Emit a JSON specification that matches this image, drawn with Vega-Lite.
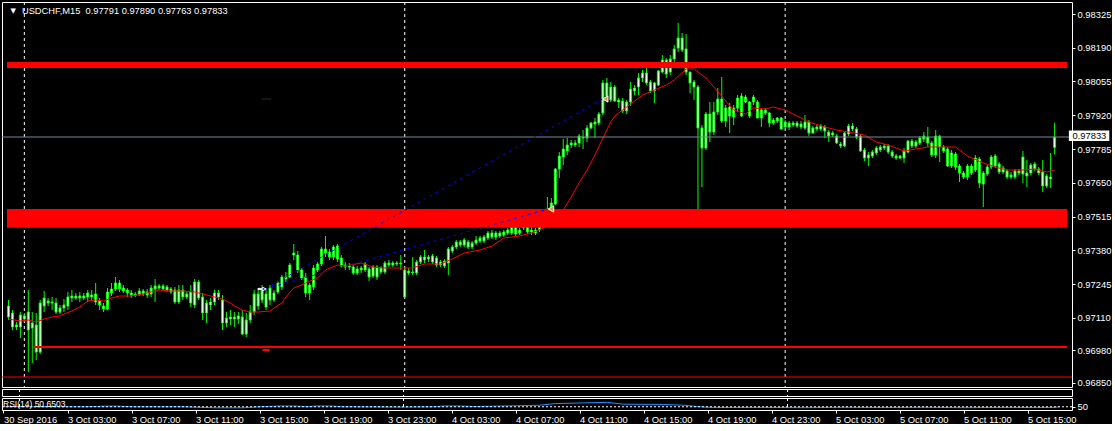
{
"$schema": "https://vega.github.io/schema/vega-lite/v6.json",
"background": "#000000",
"padding": {"left": 0, "top": 1, "right": 0, "bottom": 0},
"bounds": "flush",
"spacing": 2,
"config": {
  "view": {"stroke": "#FFFFFF", "strokeWidth": 1},
  "axis": {"labelColor": "#FFFFFF", "tickColor": "#FFFFFF", "labelFont": "Liberation Sans", "labelFontSize": 9.4, "grid": false, "domain": false, "tickSize": 3, "labelPadding": 2, "labelOverlap": false, "labelFlush": false}
},
"datasets": {
  "sep": [{"i": 4}, {"i": 100}, {"i": 196}],
  "candles": [
{"i":0,"o":0.97157,"h":0.97181,"l":0.97101,"c":0.97113},
{"i":1,"o":0.97129,"h":0.97141,"l":0.97061,"c":0.97073},
{"i":2,"o":0.97073,"h":0.97093,"l":0.97061,"c":0.97081},
{"i":3,"o":0.97073,"h":0.97133,"l":0.97029,"c":0.97121},
{"i":4,"o":0.97117,"h":0.97129,"l":0.97093,"c":0.97105},
{"i":5,"o":0.97133,"h":0.97221,"l":0.96893,"c":0.97061},
{"i":6,"o":0.97069,"h":0.97133,"l":0.96929,"c":0.97089},
{"i":7,"o":0.97081,"h":0.97129,"l":0.96941,"c":0.96973},
{"i":8,"o":0.96973,"h":0.97181,"l":0.96965,"c":0.97169},
{"i":9,"o":0.97157,"h":0.97217,"l":0.97133,"c":0.97189},
{"i":10,"o":0.97177,"h":0.97189,"l":0.97157,"c":0.97169},
{"i":11,"o":0.97173,"h":0.97193,"l":0.97141,"c":0.97169},
{"i":12,"o":0.97169,"h":0.97189,"l":0.97125,"c":0.97133},
{"i":13,"o":0.97133,"h":0.97161,"l":0.97125,"c":0.97149},
{"i":14,"o":0.97149,"h":0.97185,"l":0.97133,"c":0.97161},
{"i":15,"o":0.97157,"h":0.97213,"l":0.97141,"c":0.97193},
{"i":16,"o":0.97189,"h":0.97221,"l":0.97173,"c":0.97197},
{"i":17,"o":0.97197,"h":0.97209,"l":0.97181,"c":0.97189},
{"i":18,"o":0.97189,"h":0.97213,"l":0.97173,"c":0.97197},
{"i":19,"o":0.97197,"h":0.97209,"l":0.97181,"c":0.97189},
{"i":20,"o":0.97193,"h":0.97221,"l":0.97173,"c":0.97209},
{"i":21,"o":0.97201,"h":0.97221,"l":0.97181,"c":0.97193},
{"i":22,"o":0.97205,"h":0.97249,"l":0.97161,"c":0.97173},
{"i":23,"o":0.97177,"h":0.97189,"l":0.97141,"c":0.97161},
{"i":24,"o":0.97157,"h":0.97169,"l":0.97133,"c":0.97145},
{"i":25,"o":0.97145,"h":0.97229,"l":0.97141,"c":0.97213},
{"i":26,"o":0.97209,"h":0.97249,"l":0.97197,"c":0.97225},
{"i":27,"o":0.97225,"h":0.97273,"l":0.97217,"c":0.97249},
{"i":28,"o":0.97249,"h":0.97261,"l":0.97213,"c":0.97225},
{"i":29,"o":0.97229,"h":0.97241,"l":0.97209,"c":0.97217},
{"i":30,"o":0.97221,"h":0.97229,"l":0.97193,"c":0.97209},
{"i":31,"o":0.97209,"h":0.97221,"l":0.97189,"c":0.97201},
{"i":32,"o":0.97201,"h":0.97213,"l":0.97193,"c":0.97205},
{"i":33,"o":0.97205,"h":0.97229,"l":0.97197,"c":0.97217},
{"i":34,"o":0.97217,"h":0.97225,"l":0.97197,"c":0.97205},
{"i":35,"o":0.97213,"h":0.97225,"l":0.97189,"c":0.97201},
{"i":36,"o":0.97205,"h":0.97241,"l":0.97193,"c":0.97229},
{"i":37,"o":0.97225,"h":0.97265,"l":0.97173,"c":0.97237},
{"i":38,"o":0.97237,"h":0.97245,"l":0.97221,"c":0.97229},
{"i":39,"o":0.97237,"h":0.97245,"l":0.97221,"c":0.97225},
{"i":40,"o":0.97233,"h":0.97241,"l":0.97213,"c":0.97221},
{"i":41,"o":0.97225,"h":0.97233,"l":0.97205,"c":0.97213},
{"i":42,"o":0.97221,"h":0.97233,"l":0.97165,"c":0.97173},
{"i":43,"o":0.97173,"h":0.97241,"l":0.97165,"c":0.97221},
{"i":44,"o":0.97221,"h":0.97241,"l":0.97181,"c":0.97193},
{"i":45,"o":0.97205,"h":0.97217,"l":0.97185,"c":0.97193},
{"i":46,"o":0.97213,"h":0.97241,"l":0.97153,"c":0.97169},
{"i":47,"o":0.97161,"h":0.97265,"l":0.97149,"c":0.97253},
{"i":48,"o":0.97253,"h":0.97261,"l":0.97181,"c":0.97189},
{"i":49,"o":0.97193,"h":0.97209,"l":0.97101,"c":0.97129},
{"i":50,"o":0.97129,"h":0.97181,"l":0.97089,"c":0.97169},
{"i":51,"o":0.97161,"h":0.97189,"l":0.97141,"c":0.97173},
{"i":52,"o":0.97173,"h":0.97221,"l":0.97161,"c":0.97209},
{"i":53,"o":0.97209,"h":0.97221,"l":0.97181,"c":0.97193},
{"i":54,"o":0.97181,"h":0.97201,"l":0.97061,"c":0.97089},
{"i":55,"o":0.97089,"h":0.97133,"l":0.97073,"c":0.97109},
{"i":56,"o":0.97113,"h":0.97141,"l":0.97081,"c":0.97105},
{"i":57,"o":0.97105,"h":0.97133,"l":0.97073,"c":0.97113},
{"i":58,"o":0.97117,"h":0.97133,"l":0.97085,"c":0.97105},
{"i":59,"o":0.97113,"h":0.97141,"l":0.97041,"c":0.97045},
{"i":60,"o":0.97045,"h":0.97129,"l":0.97033,"c":0.97101},
{"i":61,"o":0.97101,"h":0.97161,"l":0.97089,"c":0.97133},
{"i":62,"o":0.97133,"h":0.97221,"l":0.97121,"c":0.97205},
{"i":63,"o":0.97205,"h":0.97221,"l":0.97141,"c":0.97157},
{"i":64,"o":0.97181,"h":0.97241,"l":0.97169,"c":0.97221},
{"i":65,"o":0.97205,"h":0.97221,"l":0.97141,"c":0.97153},
{"i":66,"o":0.97181,"h":0.97241,"l":0.97161,"c":0.97229},
{"i":67,"o":0.97209,"h":0.97221,"l":0.97173,"c":0.97181},
{"i":68,"o":0.97213,"h":0.97257,"l":0.97205,"c":0.97249},
{"i":69,"o":0.97233,"h":0.97281,"l":0.97221,"c":0.97273},
{"i":70,"o":0.97265,"h":0.97293,"l":0.97253,"c":0.97273},
{"i":71,"o":0.97273,"h":0.97329,"l":0.97269,"c":0.97321},
{"i":72,"o":0.97361,"h":0.97405,"l":0.97341,"c":0.97369},
{"i":73,"o":0.97361,"h":0.97377,"l":0.97289,"c":0.97301},
{"i":74,"o":0.97301,"h":0.97309,"l":0.97261,"c":0.97269},
{"i":75,"o":0.97273,"h":0.97289,"l":0.97193,"c":0.97209},
{"i":76,"o":0.97209,"h":0.97249,"l":0.97181,"c":0.97241},
{"i":77,"o":0.97233,"h":0.97321,"l":0.97221,"c":0.97309},
{"i":78,"o":0.97301,"h":0.97333,"l":0.97293,"c":0.97325},
{"i":79,"o":0.97325,"h":0.97393,"l":0.97317,"c":0.97385},
{"i":80,"o":0.97385,"h":0.97437,"l":0.97353,"c":0.97369},
{"i":81,"o":0.97373,"h":0.97385,"l":0.97341,"c":0.97353},
{"i":82,"o":0.97353,"h":0.97401,"l":0.97341,"c":0.97393},
{"i":83,"o":0.97397,"h":0.97405,"l":0.97333,"c":0.97345},
{"i":84,"o":0.97349,"h":0.97361,"l":0.97309,"c":0.97317},
{"i":85,"o":0.97321,"h":0.97333,"l":0.97301,"c":0.97313},
{"i":86,"o":0.97313,"h":0.97329,"l":0.97301,"c":0.97317},
{"i":87,"o":0.97313,"h":0.97325,"l":0.97281,"c":0.97289},
{"i":88,"o":0.97289,"h":0.97317,"l":0.97281,"c":0.97305},
{"i":89,"o":0.97301,"h":0.97317,"l":0.97289,"c":0.97309},
{"i":90,"o":0.97301,"h":0.97333,"l":0.97293,"c":0.97325},
{"i":91,"o":0.97305,"h":0.97313,"l":0.97257,"c":0.97273},
{"i":92,"o":0.97277,"h":0.97321,"l":0.97269,"c":0.97313},
{"i":93,"o":0.97273,"h":0.97321,"l":0.97261,"c":0.97313},
{"i":94,"o":0.97309,"h":0.97317,"l":0.97285,"c":0.97293},
{"i":95,"o":0.97293,"h":0.97337,"l":0.97285,"c":0.97329},
{"i":96,"o":0.97329,"h":0.97341,"l":0.97313,"c":0.97321},
{"i":97,"o":0.97321,"h":0.97337,"l":0.97313,"c":0.97329},
{"i":98,"o":0.97329,"h":0.97337,"l":0.97317,"c":0.97325},
{"i":99,"o":0.97325,"h":0.97361,"l":0.97301,"c":0.97329},
{"i":100,"o":0.97301,"h":0.97309,"l":0.97193,"c":0.97193},
{"i":101,"o":0.97289,"h":0.97309,"l":0.97281,"c":0.97297},
{"i":102,"o":0.97293,"h":0.97353,"l":0.97281,"c":0.97289},
{"i":103,"o":0.97289,"h":0.97341,"l":0.97281,"c":0.97333},
{"i":104,"o":0.97333,"h":0.97361,"l":0.97325,"c":0.97353},
{"i":105,"o":0.97341,"h":0.97381,"l":0.97329,"c":0.97353},
{"i":106,"o":0.97353,"h":0.97361,"l":0.97333,"c":0.97345},
{"i":107,"o":0.97333,"h":0.97365,"l":0.97325,"c":0.97357},
{"i":108,"o":0.97349,"h":0.97357,"l":0.97313,"c":0.97321},
{"i":109,"o":0.97333,"h":0.97341,"l":0.97313,"c":0.97321},
{"i":110,"o":0.97317,"h":0.97345,"l":0.97309,"c":0.97337},
{"i":111,"o":0.97329,"h":0.97393,"l":0.97281,"c":0.97385},
{"i":112,"o":0.97377,"h":0.97401,"l":0.97369,"c":0.97393},
{"i":113,"o":0.97393,"h":0.97421,"l":0.97385,"c":0.97413},
{"i":114,"o":0.97413,"h":0.97421,"l":0.97393,"c":0.97401},
{"i":115,"o":0.97401,"h":0.97429,"l":0.97393,"c":0.97421},
{"i":116,"o":0.97413,"h":0.97421,"l":0.97385,"c":0.97393},
{"i":117,"o":0.97393,"h":0.97417,"l":0.97385,"c":0.97409},
{"i":118,"o":0.97409,"h":0.97437,"l":0.97401,"c":0.97421},
{"i":119,"o":0.97417,"h":0.97437,"l":0.97409,"c":0.97429},
{"i":120,"o":0.97433,"h":0.97441,"l":0.97409,"c":0.97417},
{"i":121,"o":0.97429,"h":0.97457,"l":0.97421,"c":0.97449},
{"i":122,"o":0.97433,"h":0.97461,"l":0.97425,"c":0.97449},
{"i":123,"o":0.97449,"h":0.97457,"l":0.97421,"c":0.97433},
{"i":124,"o":0.97437,"h":0.97457,"l":0.97429,"c":0.97449},
{"i":125,"o":0.97441,"h":0.97461,"l":0.97433,"c":0.97453},
{"i":126,"o":0.97449,"h":0.97469,"l":0.97441,"c":0.97461},
{"i":127,"o":0.97449,"h":0.97481,"l":0.97441,"c":0.97473},
{"i":128,"o":0.97477,"h":0.97485,"l":0.97437,"c":0.97445},
{"i":129,"o":0.97461,"h":0.97469,"l":0.97441,"c":0.97449},
{"i":130,"o":0.97469,"h":0.97509,"l":0.97461,"c":0.97501},
{"i":131,"o":0.97501,"h":0.97509,"l":0.97445,"c":0.97453},
{"i":132,"o":0.97461,"h":0.97473,"l":0.97441,"c":0.97453},
{"i":133,"o":0.97449,"h":0.97469,"l":0.97441,"c":0.97461},
{"i":134,"o":0.97461,"h":0.97505,"l":0.97453,"c":0.97497},
{"i":135,"o":0.97493,"h":0.97521,"l":0.97485,"c":0.97509},
{"i":136,"o":0.97501,"h":0.97593,"l":0.97493,"c":0.97545},
{"i":137,"o":0.97529,"h":0.97589,"l":0.97521,"c":0.97569},
{"i":138,"o":0.97565,"h":0.97709,"l":0.97561,"c":0.97705},
{"i":139,"o":0.97705,"h":0.97773,"l":0.97669,"c":0.97757},
{"i":140,"o":0.97753,"h":0.97825,"l":0.97721,"c":0.97785},
{"i":141,"o":0.97777,"h":0.97829,"l":0.97761,"c":0.97801},
{"i":142,"o":0.97801,"h":0.97821,"l":0.97789,"c":0.97809},
{"i":143,"o":0.97809,"h":0.97821,"l":0.97793,"c":0.97801},
{"i":144,"o":0.97809,"h":0.97845,"l":0.97793,"c":0.97837},
{"i":145,"o":0.97833,"h":0.97861,"l":0.97785,"c":0.97829},
{"i":146,"o":0.97829,"h":0.97881,"l":0.97813,"c":0.97869},
{"i":147,"o":0.97869,"h":0.97893,"l":0.97865,"c":0.97889},
{"i":148,"o":0.97893,"h":0.97909,"l":0.97829,"c":0.97885},
{"i":149,"o":0.97889,"h":0.97933,"l":0.97881,"c":0.97925},
{"i":150,"o":0.97929,"h":0.98061,"l":0.97921,"c":0.98049},
{"i":151,"o":0.98049,"h":0.98069,"l":0.97993,"c":0.97997},
{"i":152,"o":0.97981,"h":0.98053,"l":0.97973,"c":0.98033},
{"i":153,"o":0.98033,"h":0.98041,"l":0.97973,"c":0.97977},
{"i":154,"o":0.97981,"h":0.97989,"l":0.97949,"c":0.97973},
{"i":155,"o":0.97977,"h":0.97989,"l":0.97929,"c":0.97937},
{"i":156,"o":0.97937,"h":0.97981,"l":0.97925,"c":0.97973},
{"i":157,"o":0.97973,"h":0.98053,"l":0.97957,"c":0.98025},
{"i":158,"o":0.98017,"h":0.98041,"l":0.98001,"c":0.98029},
{"i":159,"o":0.98033,"h":0.98089,"l":0.98001,"c":0.98069},
{"i":160,"o":0.98069,"h":0.98101,"l":0.98053,"c":0.98089},
{"i":161,"o":0.98089,"h":0.98133,"l":0.98041,"c":0.98049},
{"i":162,"o":0.98053,"h":0.98061,"l":0.98009,"c":0.98017},
{"i":163,"o":0.98017,"h":0.98053,"l":0.97969,"c":0.98049},
{"i":164,"o":0.98041,"h":0.98101,"l":0.98037,"c":0.98097},
{"i":165,"o":0.98093,"h":0.98161,"l":0.98089,"c":0.98141},
{"i":166,"o":0.98141,"h":0.98149,"l":0.98069,"c":0.98085},
{"i":167,"o":0.98093,"h":0.98161,"l":0.98081,"c":0.98145},
{"i":168,"o":0.98145,"h":0.98201,"l":0.98121,"c":0.98185},
{"i":169,"o":0.98189,"h":0.98289,"l":0.98173,"c":0.98229},
{"i":170,"o":0.98229,"h":0.98249,"l":0.98173,"c":0.98181},
{"i":171,"o":0.98185,"h":0.98245,"l":0.98081,"c":0.98093},
{"i":172,"o":0.98093,"h":0.98093,"l":0.98009,"c":0.98049},
{"i":173,"o":0.98053,"h":0.98061,"l":0.97981,"c":0.98033},
{"i":174,"o":0.98033,"h":0.98041,"l":0.97533,"c":0.97869},
{"i":175,"o":0.97869,"h":0.97881,"l":0.97633,"c":0.97789},
{"i":176,"o":0.97789,"h":0.97933,"l":0.97781,"c":0.97925},
{"i":177,"o":0.97925,"h":0.97973,"l":0.97813,"c":0.97853},
{"i":178,"o":0.97853,"h":0.97973,"l":0.97841,"c":0.97933},
{"i":179,"o":0.97933,"h":0.98029,"l":0.97921,"c":0.97985},
{"i":180,"o":0.97985,"h":0.98073,"l":0.97889,"c":0.97897},
{"i":181,"o":0.97897,"h":0.97961,"l":0.97873,"c":0.97949},
{"i":182,"o":0.97953,"h":0.97969,"l":0.97849,"c":0.97917},
{"i":183,"o":0.97913,"h":0.97961,"l":0.97881,"c":0.97949},
{"i":184,"o":0.97949,"h":0.98001,"l":0.97933,"c":0.97989},
{"i":185,"o":0.97997,"h":0.98009,"l":0.97913,"c":0.97917},
{"i":186,"o":0.97973,"h":0.98001,"l":0.97969,"c":0.97993},
{"i":187,"o":0.97973,"h":0.97977,"l":0.97909,"c":0.97917},
{"i":188,"o":0.97973,"h":0.98001,"l":0.97961,"c":0.97993},
{"i":189,"o":0.97973,"h":0.97981,"l":0.97909,"c":0.97909},
{"i":190,"o":0.97909,"h":0.97949,"l":0.97873,"c":0.97941},
{"i":191,"o":0.97941,"h":0.97949,"l":0.97921,"c":0.97929},
{"i":192,"o":0.97929,"h":0.97933,"l":0.97873,"c":0.97889},
{"i":193,"o":0.97889,"h":0.97909,"l":0.97881,"c":0.97901},
{"i":194,"o":0.97897,"h":0.97913,"l":0.97889,"c":0.97909},
{"i":195,"o":0.97909,"h":0.97913,"l":0.97861,"c":0.97865},
{"i":196,"o":0.97873,"h":0.97901,"l":0.97869,"c":0.97893},
{"i":197,"o":0.97889,"h":0.97897,"l":0.97861,"c":0.97873},
{"i":198,"o":0.97881,"h":0.97897,"l":0.97873,"c":0.97889},
{"i":199,"o":0.97889,"h":0.97897,"l":0.97869,"c":0.97877},
{"i":200,"o":0.97885,"h":0.97897,"l":0.97865,"c":0.97873},
{"i":201,"o":0.97869,"h":0.97921,"l":0.97861,"c":0.97893},
{"i":202,"o":0.97893,"h":0.97901,"l":0.97837,"c":0.97849},
{"i":203,"o":0.97849,"h":0.97877,"l":0.97845,"c":0.97869},
{"i":204,"o":0.97873,"h":0.97881,"l":0.97857,"c":0.97865},
{"i":205,"o":0.97865,"h":0.97885,"l":0.97857,"c":0.97877},
{"i":206,"o":0.97873,"h":0.97881,"l":0.97829,"c":0.97857},
{"i":207,"o":0.97853,"h":0.97861,"l":0.97813,"c":0.97837},
{"i":208,"o":0.97841,"h":0.97857,"l":0.97833,"c":0.97849},
{"i":209,"o":0.97837,"h":0.97845,"l":0.97805,"c":0.97809},
{"i":210,"o":0.97805,"h":0.97813,"l":0.97789,"c":0.97797},
{"i":211,"o":0.97797,"h":0.97853,"l":0.97793,"c":0.97849},
{"i":212,"o":0.97845,"h":0.97885,"l":0.97837,"c":0.97877},
{"i":213,"o":0.97877,"h":0.97889,"l":0.97857,"c":0.97865},
{"i":214,"o":0.97865,"h":0.97873,"l":0.97825,"c":0.97833},
{"i":215,"o":0.97837,"h":0.97845,"l":0.97773,"c":0.97777},
{"i":216,"o":0.97781,"h":0.97789,"l":0.97737,"c":0.97749},
{"i":217,"o":0.97749,"h":0.97773,"l":0.97717,"c":0.97761},
{"i":218,"o":0.97757,"h":0.97781,"l":0.97749,"c":0.97773},
{"i":219,"o":0.97769,"h":0.97797,"l":0.97761,"c":0.97789},
{"i":220,"o":0.97781,"h":0.97801,"l":0.97773,"c":0.97793},
{"i":221,"o":0.97797,"h":0.97805,"l":0.97781,"c":0.97789},
{"i":222,"o":0.97797,"h":0.97805,"l":0.97765,"c":0.97773},
{"i":223,"o":0.97773,"h":0.97781,"l":0.97749,"c":0.97757},
{"i":224,"o":0.97757,"h":0.97765,"l":0.97741,"c":0.97749},
{"i":225,"o":0.97749,"h":0.97761,"l":0.97745,"c":0.97757},
{"i":226,"o":0.97749,"h":0.97789,"l":0.97729,"c":0.97777},
{"i":227,"o":0.97773,"h":0.97821,"l":0.97769,"c":0.97817},
{"i":228,"o":0.97817,"h":0.97825,"l":0.97789,"c":0.97797},
{"i":229,"o":0.97797,"h":0.97821,"l":0.97789,"c":0.97813},
{"i":230,"o":0.97809,"h":0.97837,"l":0.97801,"c":0.97829},
{"i":231,"o":0.97825,"h":0.97853,"l":0.97813,"c":0.97837},
{"i":232,"o":0.97833,"h":0.97873,"l":0.97793,"c":0.97809},
{"i":233,"o":0.97809,"h":0.97817,"l":0.97753,"c":0.97761},
{"i":234,"o":0.97761,"h":0.97861,"l":0.97749,"c":0.97837},
{"i":235,"o":0.97837,"h":0.97841,"l":0.97733,"c":0.97793},
{"i":236,"o":0.97793,"h":0.97801,"l":0.97769,"c":0.97777},
{"i":237,"o":0.97785,"h":0.97793,"l":0.97713,"c":0.97717},
{"i":238,"o":0.97717,"h":0.97781,"l":0.97709,"c":0.97769},
{"i":239,"o":0.97765,"h":0.97773,"l":0.97701,"c":0.97713},
{"i":240,"o":0.97717,"h":0.97725,"l":0.97653,"c":0.97689},
{"i":241,"o":0.97689,"h":0.97697,"l":0.97665,"c":0.97673},
{"i":242,"o":0.97673,"h":0.97725,"l":0.97661,"c":0.97717},
{"i":243,"o":0.97717,"h":0.97725,"l":0.97681,"c":0.97689},
{"i":244,"o":0.97701,"h":0.97761,"l":0.97693,"c":0.97749},
{"i":245,"o":0.97745,"h":0.97753,"l":0.97629,"c":0.97649},
{"i":246,"o":0.97645,"h":0.97697,"l":0.97553,"c":0.97689},
{"i":247,"o":0.97685,"h":0.97721,"l":0.97677,"c":0.97713},
{"i":248,"o":0.97713,"h":0.97761,"l":0.97705,"c":0.97753},
{"i":249,"o":0.97757,"h":0.97765,"l":0.97709,"c":0.97717},
{"i":250,"o":0.97725,"h":0.97733,"l":0.97685,"c":0.97693},
{"i":251,"o":0.97693,"h":0.97717,"l":0.97685,"c":0.97709},
{"i":252,"o":0.97697,"h":0.97705,"l":0.97665,"c":0.97673},
{"i":253,"o":0.97673,"h":0.97693,"l":0.97665,"c":0.97681},
{"i":254,"o":0.97673,"h":0.97705,"l":0.97665,"c":0.97697},
{"i":255,"o":0.97697,"h":0.97705,"l":0.97681,"c":0.97689},
{"i":256,"o":0.97685,"h":0.97777,"l":0.97649,"c":0.97753},
{"i":257,"o":0.97689,"h":0.97741,"l":0.97633,"c":0.97677},
{"i":258,"o":0.97689,"h":0.97729,"l":0.97681,"c":0.97721},
{"i":259,"o":0.97725,"h":0.97733,"l":0.97697,"c":0.97705},
{"i":260,"o":0.97705,"h":0.97713,"l":0.97681,"c":0.97689},
{"i":261,"o":0.97693,"h":0.97741,"l":0.97613,"c":0.97637},
{"i":262,"o":0.97637,"h":0.97685,"l":0.97629,"c":0.97677},
{"i":263,"o":0.97673,"h":0.97769,"l":0.97629,"c":0.97665},
{"i":264,"o":0.97791,"h":0.97890,"l":0.97763,"c":0.97833}
  ],
  "ma": [
{"i":0,"v":0.97105},{"i":3,"v":0.97097},{"i":5,"v":0.97101},{"i":7,"v":0.97093},{"i":9,"v":0.97105},{"i":11,"v":0.97113},{"i":13,"v":0.97117},{"i":14,"v":0.97125},{"i":16,"v":0.97137},{"i":18,"v":0.97153},{"i":19,"v":0.97165},{"i":20,"v":0.97177},{"i":22,"v":0.97181},{"i":24,"v":0.97177},{"i":26,"v":0.97189},{"i":28,"v":0.97197},{"i":31,"v":0.97197},{"i":34,"v":0.97205},{"i":36,"v":0.97213},{"i":38,"v":0.97221},{"i":41,"v":0.97217},{"i":44,"v":0.97217},{"i":47,"v":0.97213},{"i":49,"v":0.97205},{"i":52,"v":0.97193},{"i":54,"v":0.97185},{"i":56,"v":0.97169},{"i":57,"v":0.97157},{"i":59,"v":0.97141},{"i":61,"v":0.97133},{"i":63,"v":0.97133},{"i":66,"v":0.97137},{"i":67,"v":0.97149},{"i":69,"v":0.97169},{"i":70,"v":0.97193},{"i":72,"v":0.97229},{"i":74,"v":0.97241},{"i":75,"v":0.97249},{"i":78,"v":0.97269},{"i":80,"v":0.97301},{"i":83,"v":0.97321},{"i":85,"v":0.97317},{"i":89,"v":0.97329},{"i":92,"v":0.97313},{"i":95,"v":0.97309},{"i":99,"v":0.97309},{"i":102,"v":0.97309},{"i":105,"v":0.97325},{"i":109,"v":0.97325},{"i":112,"v":0.97345},{"i":115,"v":0.97369},{"i":119,"v":0.97381},{"i":122,"v":0.97397},{"i":125,"v":0.97429},{"i":129,"v":0.97437},{"i":132,"v":0.97449},{"i":135,"v":0.97469},{"i":138,"v":0.97485},{"i":140,"v":0.97541},{"i":142,"v":0.97593},{"i":144,"v":0.97649},{"i":146,"v":0.97701},{"i":148,"v":0.97761},{"i":150,"v":0.97829},{"i":152,"v":0.97893},{"i":153,"v":0.97917},{"i":155,"v":0.97941},{"i":158,"v":0.97977},{"i":160,"v":0.98001},{"i":163,"v":0.98021},{"i":166,"v":0.98041},{"i":168,"v":0.98061},{"i":171,"v":0.98105},{"i":173,"v":0.98105},{"i":176,"v":0.98069},{"i":178,"v":0.98033},{"i":181,"v":0.97977},{"i":183,"v":0.97941},{"i":186,"v":0.97925},{"i":188,"v":0.97949},{"i":191,"v":0.97945},{"i":193,"v":0.97953},{"i":196,"v":0.97941},{"i":199,"v":0.97917},{"i":202,"v":0.97893},{"i":206,"v":0.97873},{"i":209,"v":0.97861},{"i":212,"v":0.97853},{"i":216,"v":0.97841},{"i":219,"v":0.97813},{"i":222,"v":0.97801},{"i":226,"v":0.97777},{"i":229,"v":0.97785},{"i":232,"v":0.97793},{"i":236,"v":0.97793},{"i":239,"v":0.97793},{"i":242,"v":0.97757},{"i":246,"v":0.97729},{"i":249,"v":0.97713},{"i":252,"v":0.97701},{"i":256,"v":0.97701},{"i":259,"v":0.97705},{"i":262,"v":0.97693},{"i":264,"v":0.97701}
  ],
  "rsi": [
{"i":0,"v":50},{"i":10,"v":50},{"i":20,"v":50},{"i":26,"v":55},{"i":29,"v":55},{"i":32,"v":50},{"i":45,"v":50},{"i":53,"v":42},{"i":60,"v":42},{"i":64,"v":50},{"i":69,"v":56},{"i":73,"v":56},{"i":76,"v":50},{"i":78,"v":56},{"i":82,"v":56},{"i":85,"v":50},{"i":100,"v":48},{"i":108,"v":50},{"i":110,"v":56},{"i":114,"v":56},{"i":118,"v":52},{"i":128,"v":58},{"i":134,"v":62},{"i":138,"v":75},{"i":145,"v":80},{"i":151,"v":84},{"i":155,"v":70},{"i":165,"v":68},{"i":170,"v":62},{"i":175,"v":48},{"i":178,"v":44},{"i":190,"v":45},{"i":200,"v":43},{"i":210,"v":46},{"i":220,"v":44},{"i":230,"v":46},{"i":240,"v":43},{"i":250,"v":45},{"i":258,"v":44},{"i":263,"v":45},{"i":264,"v":50.65}
  ],
  "bands": [{"lo": 0.98109, "hi": 0.98133}, {"lo": 0.97470, "hi": 0.97545}],
  "trendline": [{"from": 6.2, "p": 0.96993}],
  "trades": [{"i1": 64.7, "p1": 0.97225, "i2": 136.2, "p2": 0.97545}, {"i1": 64.7, "p1": 0.97225, "i2": 149.9, "p2": 0.97985}],
  "closes": [{"i": 136.9, "p": 0.97545}, {"i": 150.6, "p": 0.97985}]
},
"resolve": {"scale": {"x": "independent", "y": "independent"}},
"vconcat": [
 {
  "width": 1070, "height": 385,
  "layer": [
   {"data": {"name": "sep"}, "mark": {"type": "rule", "color": "#FFFFFF", "strokeDash": [3, 3], "strokeWidth": 1},
    "encoding": {"x": {"field": "i", "type": "quantitative", "scale": {"domain": [-0.375, 267.125], "nice": false, "zero": false}, "axis": null}}},
   {"data": {"name": "candles"}, "mark": {"type": "rule", "color": "#00FF00", "strokeWidth": 1},
    "encoding": {
     "x": {"field": "i", "type": "quantitative", "scale": {"domain": [-0.375, 267.125], "nice": false, "zero": false}, "axis": null},
     "y": {"field": "l", "type": "quantitative", "title": null, "scale": {"domain": [0.96833, 0.98373], "nice": false, "zero": false},
       "axis": {"orient": "right", "title": null, "tickCount": 40, "values": [0.98325, 0.98190, 0.98055, 0.97920, 0.97785, 0.97650, 0.97515, 0.97380, 0.97245, 0.97110, 0.96980, 0.96850], "format": ".5f", "labelFlush": false, "labelOverlap": false}},
     "y2": {"field": "h"}}},
   {"data": {"name": "candles"}, "mark": {"type": "bar", "size": 2, "fill": "#FFFFFF", "stroke": "#00FF00", "strokeWidth": 1},
    "encoding": {
     "x": {"field": "i", "type": "quantitative", "axis": null},
     "y": {"field": "o", "type": "quantitative", "title": null},
     "y2": {"field": "c"}}},
   {"data": {"name": "ma"}, "mark": {"type": "line", "color": "#FF0000", "strokeWidth": 1},
    "encoding": {"x": {"field": "i", "type": "quantitative", "axis": null}, "y": {"field": "v", "type": "quantitative", "title": null}}},
   {"data": {"values": [{"p": 0.97833}]}, "mark": {"type": "rule", "color": "#778899", "strokeWidth": 1},
    "encoding": {"y": {"field": "p", "type": "quantitative", "title": null}}},
   {"data": {"name": "bands"}, "mark": {"type": "rect", "color": "#FF0000"},
    "encoding": {"x": {"datum": -0.375, "type": "quantitative", "axis": null}, "x2": {"datum": 267.125}, "y": {"field": "lo", "type": "quantitative", "title": null}, "y2": {"field": "hi"}}},
   {"data": {"name": "trendline"}, "mark": {"type": "rule", "color": "#FF0000", "strokeWidth": 2},
    "encoding": {"x": {"field": "from", "type": "quantitative", "axis": null}, "x2": {"datum": 267.125}, "y": {"field": "p", "type": "quantitative", "title": null}}},
   {"data": {"values": [{"p": 0.96873}]}, "mark": {"type": "rule", "color": "#FF0000", "strokeWidth": 1},
    "encoding": {"y": {"field": "p", "type": "quantitative", "title": null}}},
   {"data": {"values": [{"a": 64.1, "b": 65.9, "p": 0.96981}]}, "mark": {"type": "rule", "color": "#FF0000", "strokeWidth": 2},
    "encoding": {"x": {"field": "a", "type": "quantitative", "axis": null}, "x2": {"field": "b"}, "y": {"field": "p", "type": "quantitative", "title": null}}},
   {"data": {"values": [{"a": 63.8, "b": 66.2, "p": 0.97985}]}, "mark": {"type": "rule", "color": "#3a2020", "strokeWidth": 1},
    "encoding": {"x": {"field": "a", "type": "quantitative", "axis": null}, "x2": {"field": "b"}, "y": {"field": "p", "type": "quantitative", "title": null}}},
   {"data": {"name": "trades"}, "mark": {"type": "rule", "color": "#0000FF", "strokeWidth": 1, "strokeDash": [3, 4]},
    "encoding": {"x": {"field": "i1", "type": "quantitative", "axis": null}, "x2": {"field": "i2"}, "y": {"field": "p1", "type": "quantitative", "title": null}, "y2": {"field": "p2"}}},
   {"data": {"values": [{"i": 64, "p": 0.97225}]}, "mark": {"type": "point", "shape": "arrow", "angle": 90, "filled": true, "fill": "#0000FF", "stroke": "#FFFFFF", "strokeWidth": 1, "size": 70, "opacity": 1},
    "encoding": {"x": {"field": "i", "type": "quantitative", "axis": null}, "y": {"field": "p", "type": "quantitative", "title": null}}},
   {"data": {"name": "closes"}, "mark": {"type": "point", "shape": "triangle-left", "filled": true, "fill": "#D89A40", "stroke": "#FFFFFF", "strokeWidth": 1, "size": 40, "opacity": 1},
    "encoding": {"x": {"field": "i", "type": "quantitative", "axis": null}, "y": {"field": "p", "type": "quantitative", "title": null}}},
   {"data": {"values": [{"t": "▼", "i": 1.2, "p": 0.98338}]}, "mark": {"type": "text", "align": "center", "baseline": "middle", "color": "#FFFFFF", "font": "DejaVu Sans", "fontSize": 7},
    "encoding": {"text": {"field": "t"}, "x": {"field": "i", "type": "quantitative", "axis": null}, "y": {"field": "p", "type": "quantitative", "title": null}}},
   {"data": {"values": [{"t": "USDCHF,M15 \u00a00.97791 0.97890 0.97763 0.97833", "i": 3.4, "p": 0.98338}]}, "mark": {"type": "text", "align": "left", "baseline": "middle", "color": "#FFFFFF", "font": "Liberation Sans", "fontSize": 9.3},
    "encoding": {"text": {"field": "t"}, "x": {"field": "i", "type": "quantitative", "axis": null}, "y": {"field": "p", "type": "quantitative", "title": null}}},
   {"data": {"values": [{"a": 267.6, "b": 277.8, "lo": 0.97817, "hi": 0.97859}]}, "mark": {"type": "rect", "color": "#FFFFFF"},
    "encoding": {"x": {"field": "a", "type": "quantitative", "axis": null}, "x2": {"field": "b"}, "y": {"field": "lo", "type": "quantitative", "title": null}, "y2": {"field": "hi"}}},
   {"data": {"values": [{"t": "0.97833", "i": 268.5, "p": 0.97836}]}, "mark": {"type": "text", "align": "left", "baseline": "middle", "color": "#000000", "font": "Liberation Sans", "fontSize": 9.4},
    "encoding": {"text": {"field": "t"}, "x": {"field": "i", "type": "quantitative", "axis": null}, "y": {"field": "p", "type": "quantitative", "title": null}}}
  ]
 },
 {
  "width": 1070, "height": 7,
  "data": {"name": "sep"},
  "mark": {"type": "rule", "color": "#FFFFFF", "strokeDash": [3, 3], "strokeWidth": 1},
  "encoding": {"x": {"field": "i", "type": "quantitative", "scale": {"domain": [-0.375, 267.125], "nice": false, "zero": false}, "axis": null}}
 },
 {
  "width": 1070, "height": 12,
  "layer": [
   {"data": {"name": "sep"}, "mark": {"type": "rule", "color": "#FFFFFF", "strokeDash": [3, 3], "strokeWidth": 1},
    "encoding": {"x": {"field": "i", "type": "quantitative", "title": null, "scale": {"domain": [-0.375, 267.125], "nice": false, "zero": false},
      "axis": {"orient": "bottom", "title": null, "tickCount": 40, "values": [0, 16, 32, 48, 64, 80, 96, 112, 128, 144, 160, 176, 192, 208, 224, 240, 256],
        "labelExpr": "['30 Sep 2016','3 Oct 03:00','3 Oct 07:00','3 Oct 11:00','3 Oct 15:00','3 Oct 19:00','3 Oct 23:00','4 Oct 03:00','4 Oct 07:00','4 Oct 11:00','4 Oct 15:00','4 Oct 19:00','4 Oct 23:00','5 Oct 03:00','5 Oct 07:00','5 Oct 11:00','5 Oct 15:00'][round(datum.value/16)]",
        "labelAlign": "left", "labelBaseline": "top", "labelFlush": false, "labelOverlap": false, "labelBound": false, "offset": 0, "tickSize": 3, "labelPadding": 2}}}},
   {"data": {"name": "rsi"}, "mark": {"type": "line", "color": "#1E90FF", "strokeWidth": 1},
    "encoding": {"x": {"field": "i", "type": "quantitative", "title": null},
      "y": {"field": "v", "type": "quantitative", "title": null, "scale": {"domain": [25, 118], "nice": false, "zero": false}, "axis": {"orient": "right", "title": null, "values": [50], "format": "d"}}}},
   {"data": {"values": [{"v": 50}]}, "mark": {"type": "rule", "color": "#FFFFFF", "strokeDash": [2, 2], "strokeWidth": 1},
    "encoding": {"y": {"field": "v", "type": "quantitative", "title": null}}},
   {"data": {"values": [{"t": "RSI(14) 50.6503", "i": -0.125, "v": 71}]}, "mark": {"type": "text", "align": "left", "baseline": "middle", "color": "#FFFFFF", "font": "Liberation Sans", "fontSize": 8.5},
    "encoding": {"text": {"field": "t"}, "x": {"field": "i", "type": "quantitative", "title": null}, "y": {"field": "v", "type": "quantitative", "title": null}}}
  ]
 }
]
}
